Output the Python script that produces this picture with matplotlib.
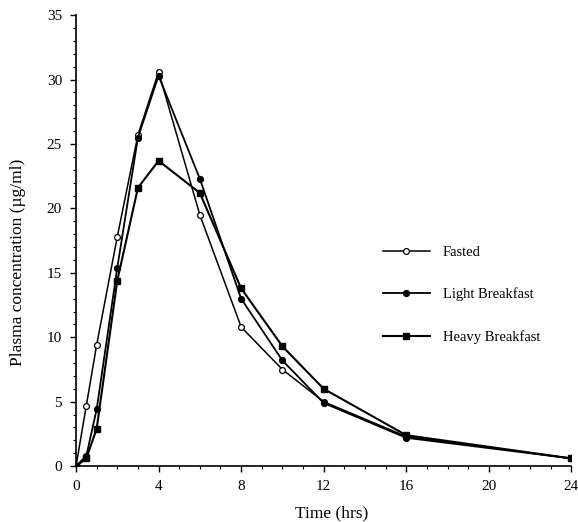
"""
Plasma concentration vs time for fasted / light / heavy breakfast.
"""

import matplotlib
matplotlib.use("Agg")
import matplotlib.pyplot as plt
from matplotlib.ticker import MultipleLocator

# --- Data ---
time_hrs = [0, 0.5, 1, 2, 3, 4, 6, 8, 10, 12, 16, 24]
fasted = [0, 4.7, 9.4, 17.8, 25.7, 30.6, 19.5, 10.8, 7.5, 5.0, 2.3, 0.6]
light_breakfast = [0, 0.8, 4.4, 15.4, 25.5, 30.3, 22.3, 13.0, 8.2, 4.9, 2.2, 0.6]
heavy_breakfast = [0, 0.6, 2.9, 14.4, 21.6, 23.7, 21.2, 13.8, 9.3, 6.0, 2.4, 0.6]

x_ticks = [0, 4, 8, 12, 16, 20, 24]
y_ticks = [0, 5, 10, 15, 20, 25, 30, 35]

plt.rcParams["font.family"] = ["Liberation Serif", "DejaVu Serif"]

fig = plt.figure(figsize=(5.78, 5.22), dpi=100)
ax = fig.add_axes([0.1315, 0.107, 0.857, 0.864])

ax.plot(time_hrs, fasted, color="black", lw=1.1, marker="o", ms=4.2,
        mfc="white", mec="black", mew=0.9, label="Fasted")
ax.plot(time_hrs, light_breakfast, color="black", lw=1.3, marker="o", ms=4.2,
        label="Light Breakfast")
ax.plot(time_hrs, heavy_breakfast, color="black", lw=1.5, marker="s", ms=4.2,
        label="Heavy Breakfast")

ax.set_xlim(0, 24)
ax.set_ylim(0, 35)
ax.set_xticks(x_ticks)
ax.set_yticks(y_ticks)
ax.xaxis.set_minor_locator(MultipleLocator(1))
ax.yaxis.set_minor_locator(MultipleLocator(1))
ax.tick_params(which="major", direction="out", length=4, width=1,
               labelsize=11, pad=6)
ax.tick_params(which="minor", direction="out", length=2, width=0.8)

for side in ["top", "right"]:
    ax.spines[side].set_visible(False)
for side in ["left", "bottom"]:
    ax.spines[side].set_linewidth(1.2)

ax.set_xlabel("Time (hrs)", fontsize=12.5)
ax.set_ylabel("Plasma concentration (\u00b5g/ml)", fontsize=12.5)
ax.xaxis.set_label_coords(0.517, -0.088)
ax.yaxis.set_label_coords(-0.101, 0.452)

ax.legend(loc="upper left", bbox_to_anchor=(0.62, 0.488), frameon=False,
          borderpad=0, borderaxespad=0, fontsize=10.5, handlelength=3.2,
          handletextpad=0.9, labelspacing=1.95)

fig.savefig("out.png", dpi=100)
